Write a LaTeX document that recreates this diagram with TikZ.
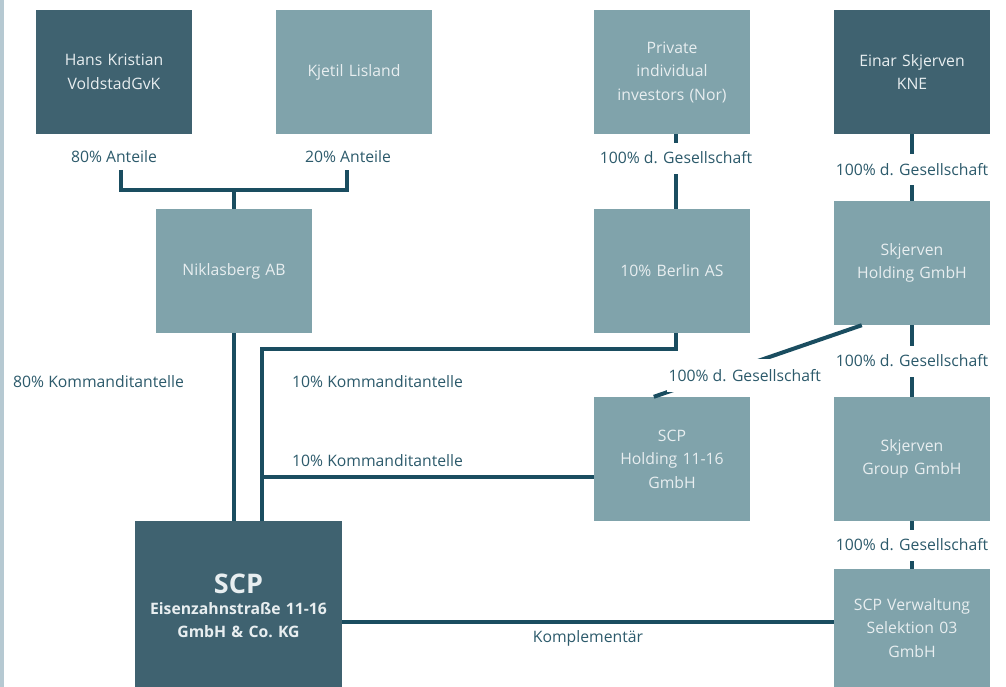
\documentclass[tikz,border=0pt]{standalone}
\usepackage{fontspec}
\setmainfont{Open Sans}
\usetikzlibrary{positioning, calc}
\definecolor{boxdark}{HTML}{3F6270}
\definecolor{boxlight}{HTML}{80A3AB}
\definecolor{linie}{HTML}{1A4D60}
\definecolor{labeltext}{HTML}{2C5A6B}
\definecolor{boxtext}{HTML}{E8EEF0}
\definecolor{randbar}{HTML}{B6C9D2}

\begin{document}
\begin{tikzpicture}[
    x=1pt, y=-1pt,
    firma/.style={rectangle, minimum width=156pt, minimum height=124pt, text width=150pt, align=center, inner sep=0pt, text=boxtext, font=\fontsize{15.75}{23.5}\selectfont},
    dunkel/.style={firma, fill=boxdark},
    hell/.style={firma, fill=boxlight},
    edge/.style={draw=linie, line width=4pt},
    anteil/.style={text=labeltext, fill=white, inner xsep=2pt, minimum height=31pt, font=\fontsize{15.75}{18}\selectfont}
]
\useasboundingbox (0,0) rectangle (1006,687);
\fill[randbar] (0,0) rectangle (4,687);

% Knoten
\node[dunkel] (hans) at (114,72) {Hans Kristian\\VoldstadGvK};
\node[hell] (kjetil) at (354,72) {Kjetil Lisland};
\node[hell] (priv) at (672,72) {Private\\individual\\investors (Nor)};
\node[dunkel] (einar) at (912,72) {Einar Skjerven\\KNE};
\node[hell] (nik) at (234,271) {Niklasberg AB};
\node[hell] (berlin) at (672,271) {10\% Berlin AS};
\node[hell] (skh) at (912,263) {Skjerven\\Holding GmbH};
\node[hell] (scph) at (672,459) {SCP\\Holding 11-16\\GmbH};
\node[hell] (skg) at (912,459) {Skjerven\\Group GmbH};
\node[hell, minimum height=118pt] (verw) at (912,628) {SCP Verwaltung\\Selektion 03\\GmbH};
\node[dunkel, anchor=north, minimum width=207pt, minimum height=170pt, text width=204pt] (scp) at (238.5,521)
    {{\fontsize{27}{30}\selectfont\bfseries SCP}\\[-3pt]\bfseries Eisenzahnstraße 11-16\\\bfseries GmbH \& Co.\ KG};

\node[anteil, below=13pt of hans, minimum height=0pt] (a80) {80\% Anteile};
\node[anteil, below=13pt of kjetil, xshift=-6pt, minimum height=0pt] (a20) {20\% Anteile};
\node[anteil, anchor=west] (k80) at (11,382) {80\% Kommanditantelle};
\node[anteil, anchor=west] (k10a) at (290,382) {10\% Kommanditantelle};
\node[anteil, anchor=west] (k10b) at (290,461) {10\% Kommanditantelle};

\coordinate (aL) at (121,170);
\coordinate (aR) at (347,170);
\coordinate (knick) at (234,190);
\coordinate (bk) at (262,349);

% Kanten zwischen Knoten
\draw[edge] (aL) |- (knick) -| (aR);
\draw[edge] (knick) -- (nik.north);
\draw[edge] (nik.south) -- (nik.south |- scp.north);
\draw[edge] ([xshift=4pt]berlin.south) |- (bk) -- (bk |- scp.north);
\draw[edge] ([yshift=-18pt]scph.west) -- ([yshift=-18pt]scph.west -| bk);
\draw[edge] ([xshift=4pt]priv.south) -- ([xshift=4pt]berlin.north) node[pos=0.32, anteil] {100\% d. Gesellschaft};
\draw[edge] (einar.south) -- (skh.north) node[midway, yshift=-2pt, anteil] {100\% d. Gesellschaft};
\draw[edge] (skh.south) -- (skg.north) node[midway, anteil] {100\% d. Gesellschaft};
\draw[edge] (skg.south) -- (verw.north) node[midway, anteil] {100\% d. Gesellschaft};
\draw[edge] ([xshift=28pt]skh.south west) -- ([xshift=60pt]scph.north west) node[pos=0.5625, yshift=-10pt, anteil, minimum height=33pt] {100\% d. Gesellschaft};
\draw[edge] ([yshift=6pt]verw.west) -- ([yshift=6pt]verw.west -| scp.east) node[midway, below=3pt, anteil, minimum height=0pt, fill=none] {Komplementär};

\end{tikzpicture}
\end{document}
